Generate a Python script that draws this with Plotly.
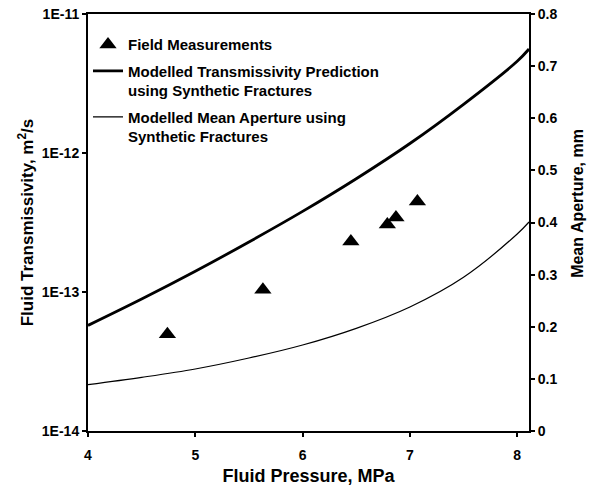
import plotly.graph_objects as go

# Field measurements
meas_pressure = [4.74, 5.63, 6.45, 6.79, 6.87, 7.07]
meas_transmissivity = [4.97e-14, 1.04e-13, 2.31e-13, 3.06e-13, 3.44e-13, 4.48e-13]

# Modelled curves
model_pressure = [4.0, 4.5, 5.0, 5.5, 6.0, 6.5, 7.0, 7.5, 8.0, 8.11]
model_transmissivity = [5.75e-14, 8.9e-14, 1.41e-13, 2.29e-13, 3.8e-13, 6.53e-13,
                        1.17e-12, 2.24e-12, 4.57e-12, 5.6e-12]
model_aperture = [0.089, 0.103, 0.119, 0.140, 0.165, 0.197, 0.238, 0.295, 0.378, 0.401]

left_tickvals = [1e-14, 1e-13, 1e-12, 1e-11]
left_ticktext = ["1E-14", "1E-13", "1E-12", "1E-11"]
x_tickvals = [4, 5, 6, 7, 8]
right_tickvals = [0, 0.1, 0.2, 0.3, 0.4, 0.5, 0.6, 0.7, 0.8]
right_ticktext = ["0", "0.1", "0.2", "0.3", "0.4", "0.5", "0.6", "0.7", "0.8"]

FONT = "Arial, Liberation Sans, sans-serif"

fig = go.Figure()
fig.add_trace(go.Scatter(
    x=meas_pressure, y=meas_transmissivity, mode="markers",
    name="Field Measurements", legendgroup="a",
    marker=dict(symbol="triangle-up", size=15, color="black"),
    yaxis="y",
))
fig.add_trace(go.Scatter(
    x=model_pressure, y=model_transmissivity, mode="lines",
    name="Modelled Transmissivity Prediction<br>using Synthetic Fractures", legendgroup="b",
    line=dict(color="black", width=2.8, shape="spline"),
    yaxis="y",
))
fig.add_trace(go.Scatter(
    x=model_pressure, y=model_aperture, mode="lines",
    name="Modelled Mean Aperture using<br>Synthetic Fractures", legendgroup="c",
    line=dict(color="black", width=1.2, shape="spline"),
    yaxis="y2",
))

fig.update_layout(
    width=596, height=486,
    margin=dict(l=88, r=67, t=14, b=55),
    paper_bgcolor="white", plot_bgcolor="white",
    font=dict(family=FONT, size=14, color="black", weight="bold"),
    showlegend=True,
    legend=dict(
        x=0.0, y=0.966, xanchor="left", yanchor="top",
        bgcolor="rgba(0,0,0,0)", borderwidth=0,
        font=dict(family=FONT, size=15, color="black", weight="bold"),
        valign="top", itemwidth=30, tracegroupgap=4,
    ),
    xaxis=dict(
        range=[4, 8.11], tickvals=x_tickvals,
        showgrid=False, zeroline=False, automargin=False,
        showline=True, linecolor="black", linewidth=2, mirror=True,
        ticks="outside", ticklen=4, tickwidth=1.5, tickcolor="black",
        ticklabelstandoff=6,
        tickfont=dict(family=FONT, size=14, weight="bold"),
        title=dict(text="Fluid Pressure, MPa", font=dict(family=FONT, size=18, weight="bold"), standoff=8),
    ),
    yaxis=dict(
        type="log", range=[-14, -11], automargin=False,
        tickvals=left_tickvals, ticktext=left_ticktext,
        showgrid=False, zeroline=False,
        showline=True, linecolor="black", linewidth=2,
        ticks="outside", ticklen=4, tickwidth=1.5, tickcolor="black",
        tickfont=dict(family=FONT, size=14, weight="bold"),
        title=dict(text="Fluid Transmissivity, m<sup>2</sup>/s",
                   font=dict(family=FONT, size=17, weight="bold"), standoff=4),
    ),
    yaxis2=dict(
        overlaying="y", side="right", range=[0, 0.8], automargin=False,
        tickvals=right_tickvals, ticktext=right_ticktext,
        showgrid=False, zeroline=False,
        showline=True, linecolor="black", linewidth=2,
        ticks="outside", ticklen=4, tickwidth=1.5, tickcolor="black",
        tickfont=dict(family=FONT, size=14, weight="bold"),
    ),
    annotations=[dict(
        text="Mean Aperture, mm", textangle=-90,
        xref="paper", yref="paper", x=1.111, y=0.547,
        xanchor="center", yanchor="middle", showarrow=False,
        font=dict(family=FONT, size=16, weight="bold", color="black"),
    )],
)

fig.write_html("out.html")
